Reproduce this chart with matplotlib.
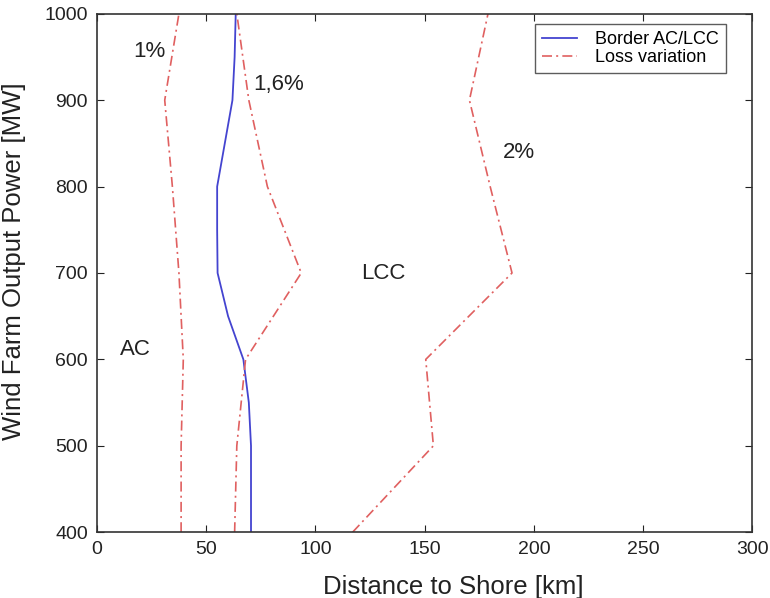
import numpy as np
import matplotlib
matplotlib.use('Agg')
import matplotlib.pyplot as plt

plt.rcParams['font.family'] = ['Liberation Sans', 'DejaVu Sans']

# output power levels [MW]
power = [400, 500, 600, 700, 800, 900, 1000]

# border between AC and LCC transmission [km]
border_power = [400, 450, 500, 550, 600, 650, 700, 750, 800, 850, 900, 950, 1000]
border_dist = [70.5, 70.5, 70.5, 69.5, 67, 60, 55.2, 55, 55, 58.5, 62, 63, 63.5]

# loss variation curves [km]
loss_1 = [38.5, 38.5, 39.5, 37.5, 34.5, 31, 37.5]
loss_16 = [63, 64, 68, 93.5, 78, 69.5, 64]
loss_2 = [117, 154, 150.5, 190, 180, 170.5, 179]

blue = '#4444d0'
red = '#e06060'
txt = '#222222'
dash_dot = (6, 2.5, 1.2, 2.5)

fig = plt.figure(figsize=(7.7, 5.98), dpi=100)
ax = fig.add_axes([0.126, 0.110, 0.851, 0.867])

ax.plot(border_dist, border_power, '-', color=blue, lw=1.3, label='Border AC/LCC')
ax.plot(loss_1, power, color=red, lw=1.2, dashes=dash_dot, label='Loss variation')
ax.plot(loss_16, power, color=red, lw=1.2, dashes=dash_dot)
ax.plot(loss_2, power, color=red, lw=1.2, dashes=dash_dot)

ax.text(24, 956, '1%', fontsize=16, ha='center', va='center', color=txt)
ax.text(83, 918, '1,6%', fontsize=16, ha='center', va='center', color=txt)
ax.text(193, 839, '2%', fontsize=16, ha='center', va='center', color=txt)
ax.text(131, 699, 'LCC', fontsize=16, ha='center', va='center', color=txt)
ax.text(17.5, 611, 'AC', fontsize=16, ha='center', va='center', color=txt)

ax.set_xlim(0, 300)
ax.set_ylim(400, 1000)
ax.set_xticks(np.arange(0, 301, 50))
ax.set_yticks(np.arange(400, 1001, 100))
ax.tick_params(direction='in', top=True, right=True, length=5, labelsize=14, colors=txt)
ax.tick_params(axis='y', pad=6.5)
ax.tick_params(axis='x', pad=6)
for s in ax.spines.values():
    s.set_color('#333333')
    s.set_linewidth(1.2)

ax.set_xlabel('Distance to Shore [km]', fontsize=18.5, color=txt)
ax.set_ylabel('Wind Farm Output Power [MW]', fontsize=18.5, color=txt)
ax.xaxis.set_label_coords(0.543, -0.083)
ax.yaxis.set_label_coords(-0.108, 0.523)

leg = ax.legend(loc='upper left', fontsize=13, frameon=True, fancybox=False,
                edgecolor='#333333', borderpad=0.4, handlelength=1.9,
                handletextpad=1.0, labelspacing=0.05, borderaxespad=0,
                bbox_to_anchor=(535 / 770, 1 - 24 / 598),
                bbox_transform=fig.transFigure)
leg.get_frame().set_linewidth(1.0)

fig.savefig('out.png', dpi=100)
